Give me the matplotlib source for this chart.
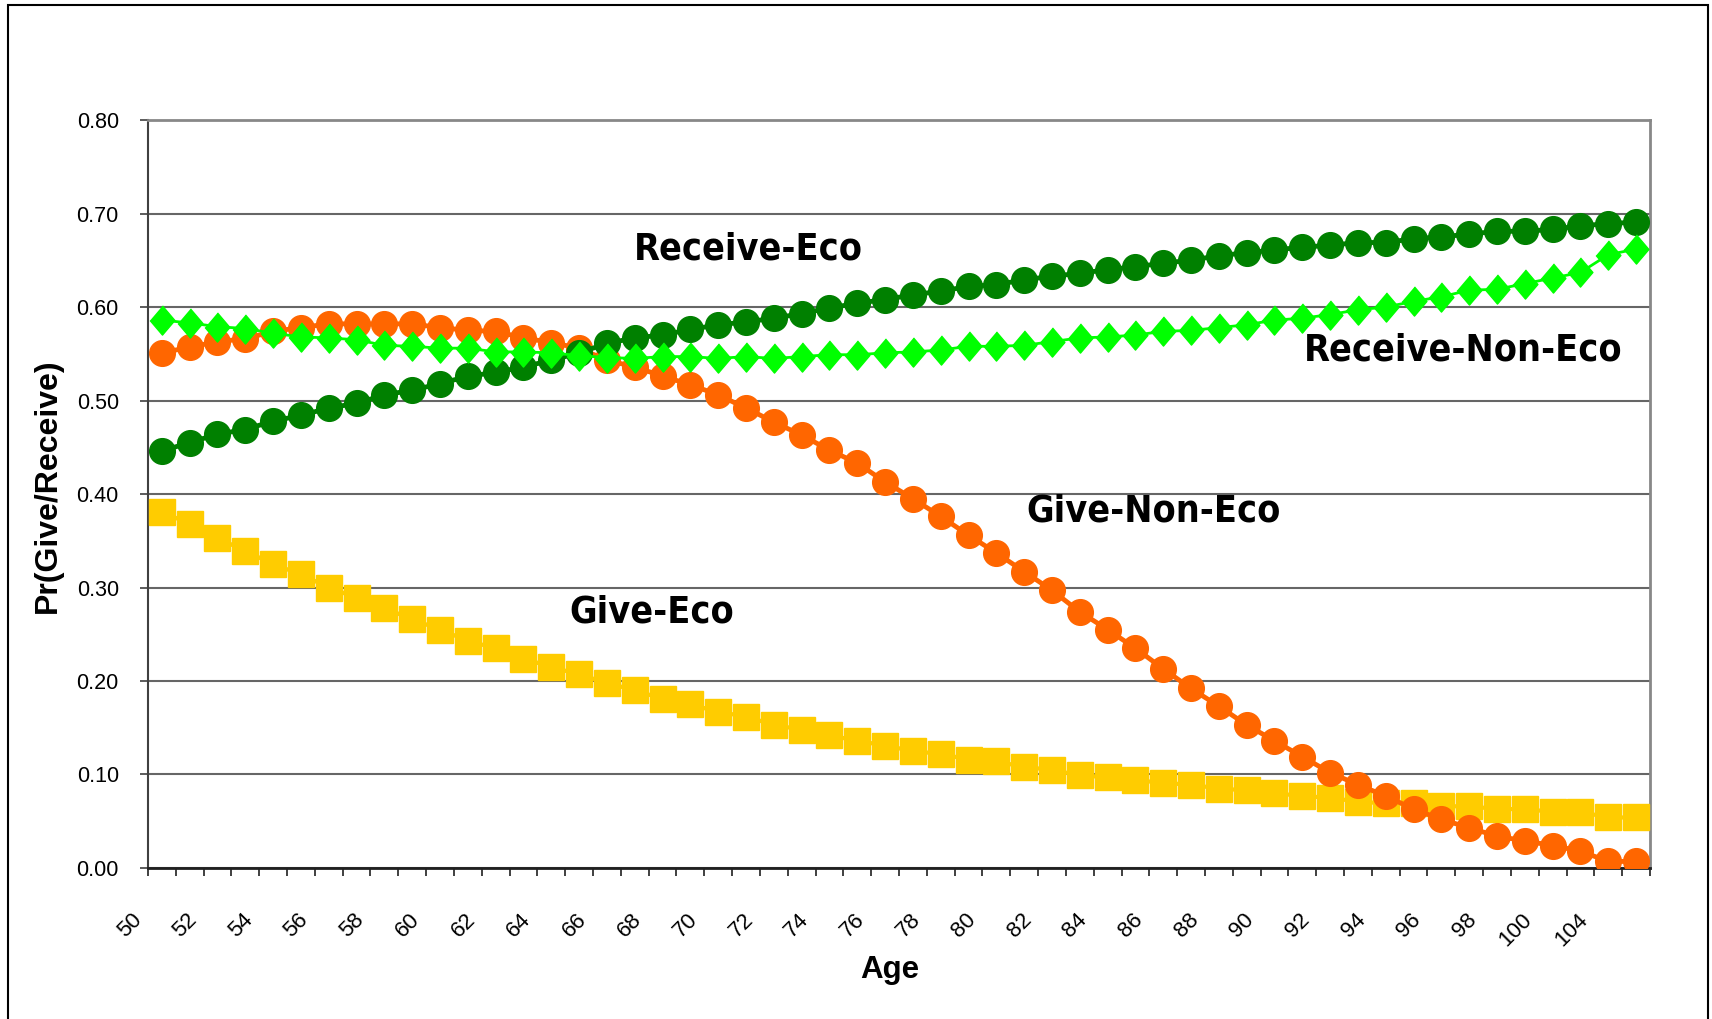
import matplotlib
matplotlib.use("Agg")
import matplotlib.pyplot as plt
from matplotlib.patches import Rectangle
from matplotlib.transforms import ScaledTranslation
import numpy as np

# Age categories (labels shown on every second category)
ages = list(range(50, 102)) + [104, 105]

receive_eco = [0.446, 0.455, 0.464, 0.469, 0.478, 0.484, 0.492, 0.497, 0.506, 0.511,
               0.518, 0.526, 0.530, 0.536, 0.543, 0.551, 0.561, 0.567, 0.570, 0.576,
               0.581, 0.584, 0.588, 0.593, 0.599, 0.604, 0.608, 0.613, 0.617, 0.622,
               0.624, 0.629, 0.633, 0.636, 0.640, 0.643, 0.647, 0.650, 0.655, 0.658,
               0.661, 0.664, 0.666, 0.669, 0.669, 0.673, 0.675, 0.678, 0.681, 0.681,
               0.683, 0.687, 0.689, 0.691]
receive_non_eco = [0.586, 0.583, 0.579, 0.577, 0.572, 0.568, 0.567, 0.565, 0.559, 0.558,
                   0.556, 0.556, 0.552, 0.552, 0.551, 0.548, 0.546, 0.545, 0.547, 0.547,
                   0.545, 0.547, 0.545, 0.547, 0.549, 0.549, 0.551, 0.552, 0.554, 0.558,
                   0.558, 0.559, 0.563, 0.567, 0.568, 0.570, 0.574, 0.575, 0.578, 0.581,
                   0.586, 0.588, 0.592, 0.597, 0.600, 0.606, 0.611, 0.618, 0.619, 0.625,
                   0.631, 0.637, 0.656, 0.662]
give_non_eco = [0.551, 0.557, 0.563, 0.566, 0.574, 0.578, 0.582, 0.582, 0.582, 0.582,
                0.578, 0.575, 0.574, 0.567, 0.562, 0.556, 0.543, 0.536, 0.526, 0.517,
                0.506, 0.492, 0.477, 0.463, 0.447, 0.433, 0.413, 0.395, 0.376, 0.356,
                0.337, 0.317, 0.297, 0.274, 0.255, 0.235, 0.213, 0.192, 0.173, 0.153,
                0.136, 0.119, 0.102, 0.089, 0.077, 0.063, 0.052, 0.043, 0.034, 0.029,
                0.024, 0.018, 0.007, 0.007]
give_eco = [0.381, 0.368, 0.353, 0.339, 0.325, 0.314, 0.300, 0.289, 0.278, 0.266,
            0.255, 0.243, 0.235, 0.224, 0.215, 0.207, 0.198, 0.190, 0.181, 0.175,
            0.167, 0.162, 0.153, 0.148, 0.142, 0.136, 0.131, 0.125, 0.122, 0.116,
            0.114, 0.108, 0.105, 0.099, 0.097, 0.094, 0.091, 0.089, 0.085, 0.083,
            0.080, 0.077, 0.075, 0.071, 0.069, 0.069, 0.066, 0.066, 0.063, 0.063,
            0.060, 0.060, 0.054, 0.054]

y_ticks = [0.0, 0.1, 0.2, 0.3, 0.4, 0.5, 0.6, 0.7, 0.8]

fig = plt.figure(figsize=(17.12, 10.19), dpi=100)
ax = fig.add_axes([0.0864, 0.1482, 0.8774, 0.7340])

x = np.arange(len(ages))
diamond = [(0, 1), (0.85, 0), (0, -1), (-0.85, 0)]

ax.plot(x, give_eco, color="#FFCC00", lw=3, marker="s", ms=18.5, mec="#FFCC00", zorder=3)
ax.plot(x, give_non_eco, color="#FF6600", lw=3.5, marker="o", ms=18.5, mec="#FF6600", zorder=4)
ax.plot(x, receive_eco, color="#008000", lw=3.5, marker="o", ms=18.5, mec="#008000", zorder=5)
ax.plot(x, receive_non_eco, color="#00FF00", lw=2, marker=diamond, ms=21, mec="#00FF00", zorder=6)

ax.set_xlim(-0.5, len(ages) - 0.5)
ax.set_ylim(0, 0.8)

ax.set_yticks(y_ticks)
ax.set_yticklabels([f"{v:.2f}" for v in y_ticks], fontsize=15.5, family="Liberation Sans")
ax.tick_params(axis="y", direction="out", length=6, width=1.2, pad=15, color="#404040")
ax.yaxis.grid(True, color="#666666", lw=1.5)
ax.set_axisbelow(True)

# category labels, every second one, rotated like Excel
ax.set_xticks(x)
ax.set_xticklabels([str(a) if i % 2 == 0 else "" for i, a in enumerate(ages)],
                   fontsize=16, family="Liberation Sans", rotation=45,
                   ha="right", va="top", rotation_mode="anchor")
ax.tick_params(axis="x", which="major", length=0, pad=30)
ax.set_xticks(np.arange(len(ages) + 1) - 0.5, minor=True)
ax.tick_params(axis="x", which="minor", direction="out", length=6, width=1.2, color="#202020")
shift = ScaledTranslation(-31 / 100, 0, fig.dpi_scale_trans)
for lab in ax.get_xticklabels():
    lab.set_transform(lab.get_transform() + shift)

for side in ["top", "right"]:
    ax.spines[side].set_color("#888888")
    ax.spines[side].set_linewidth(2)
ax.spines["left"].set_color("#404040")
ax.spines["left"].set_linewidth(1.5)
ax.spines["bottom"].set_color("#202020")
ax.spines["bottom"].set_linewidth(2)

# series labels
lab_kw = dict(fontsize=27, fontweight="bold", family="DejaVu Sans", fontstretch="condensed",
              ha="center", va="center", zorder=10)
ax.text(21.1, 0.661, "Receive-Eco", **lab_kw)
ax.text(46.8, 0.5535, "Receive-Non-Eco", **lab_kw)
ax.text(35.65, 0.381, "Give-Non-Eco", **lab_kw)
ax.text(17.6, 0.273, "Give-Eco", **lab_kw)

fig.text(48 / 1712, 1 - 486 / 1019, "Pr(Give/Receive)", rotation=90, fontsize=23,
         fontweight="bold", family="Liberation Sans", ha="center", va="center")
fig.text(890 / 1712, 1 - 970 / 1019, "Age", fontsize=22.5, fontweight="bold",
         family="Liberation Sans", ha="center", va="center")

# outer frame (bottom edge cut off in the original)
fig.patches.append(Rectangle((8 / 1712, -0.1), 1700 / 1712, 1.1 - 5 / 1019,
                             transform=fig.transFigure, fill=False, lw=1.5,
                             edgecolor="black"))

fig.savefig("out.png", dpi=100)
